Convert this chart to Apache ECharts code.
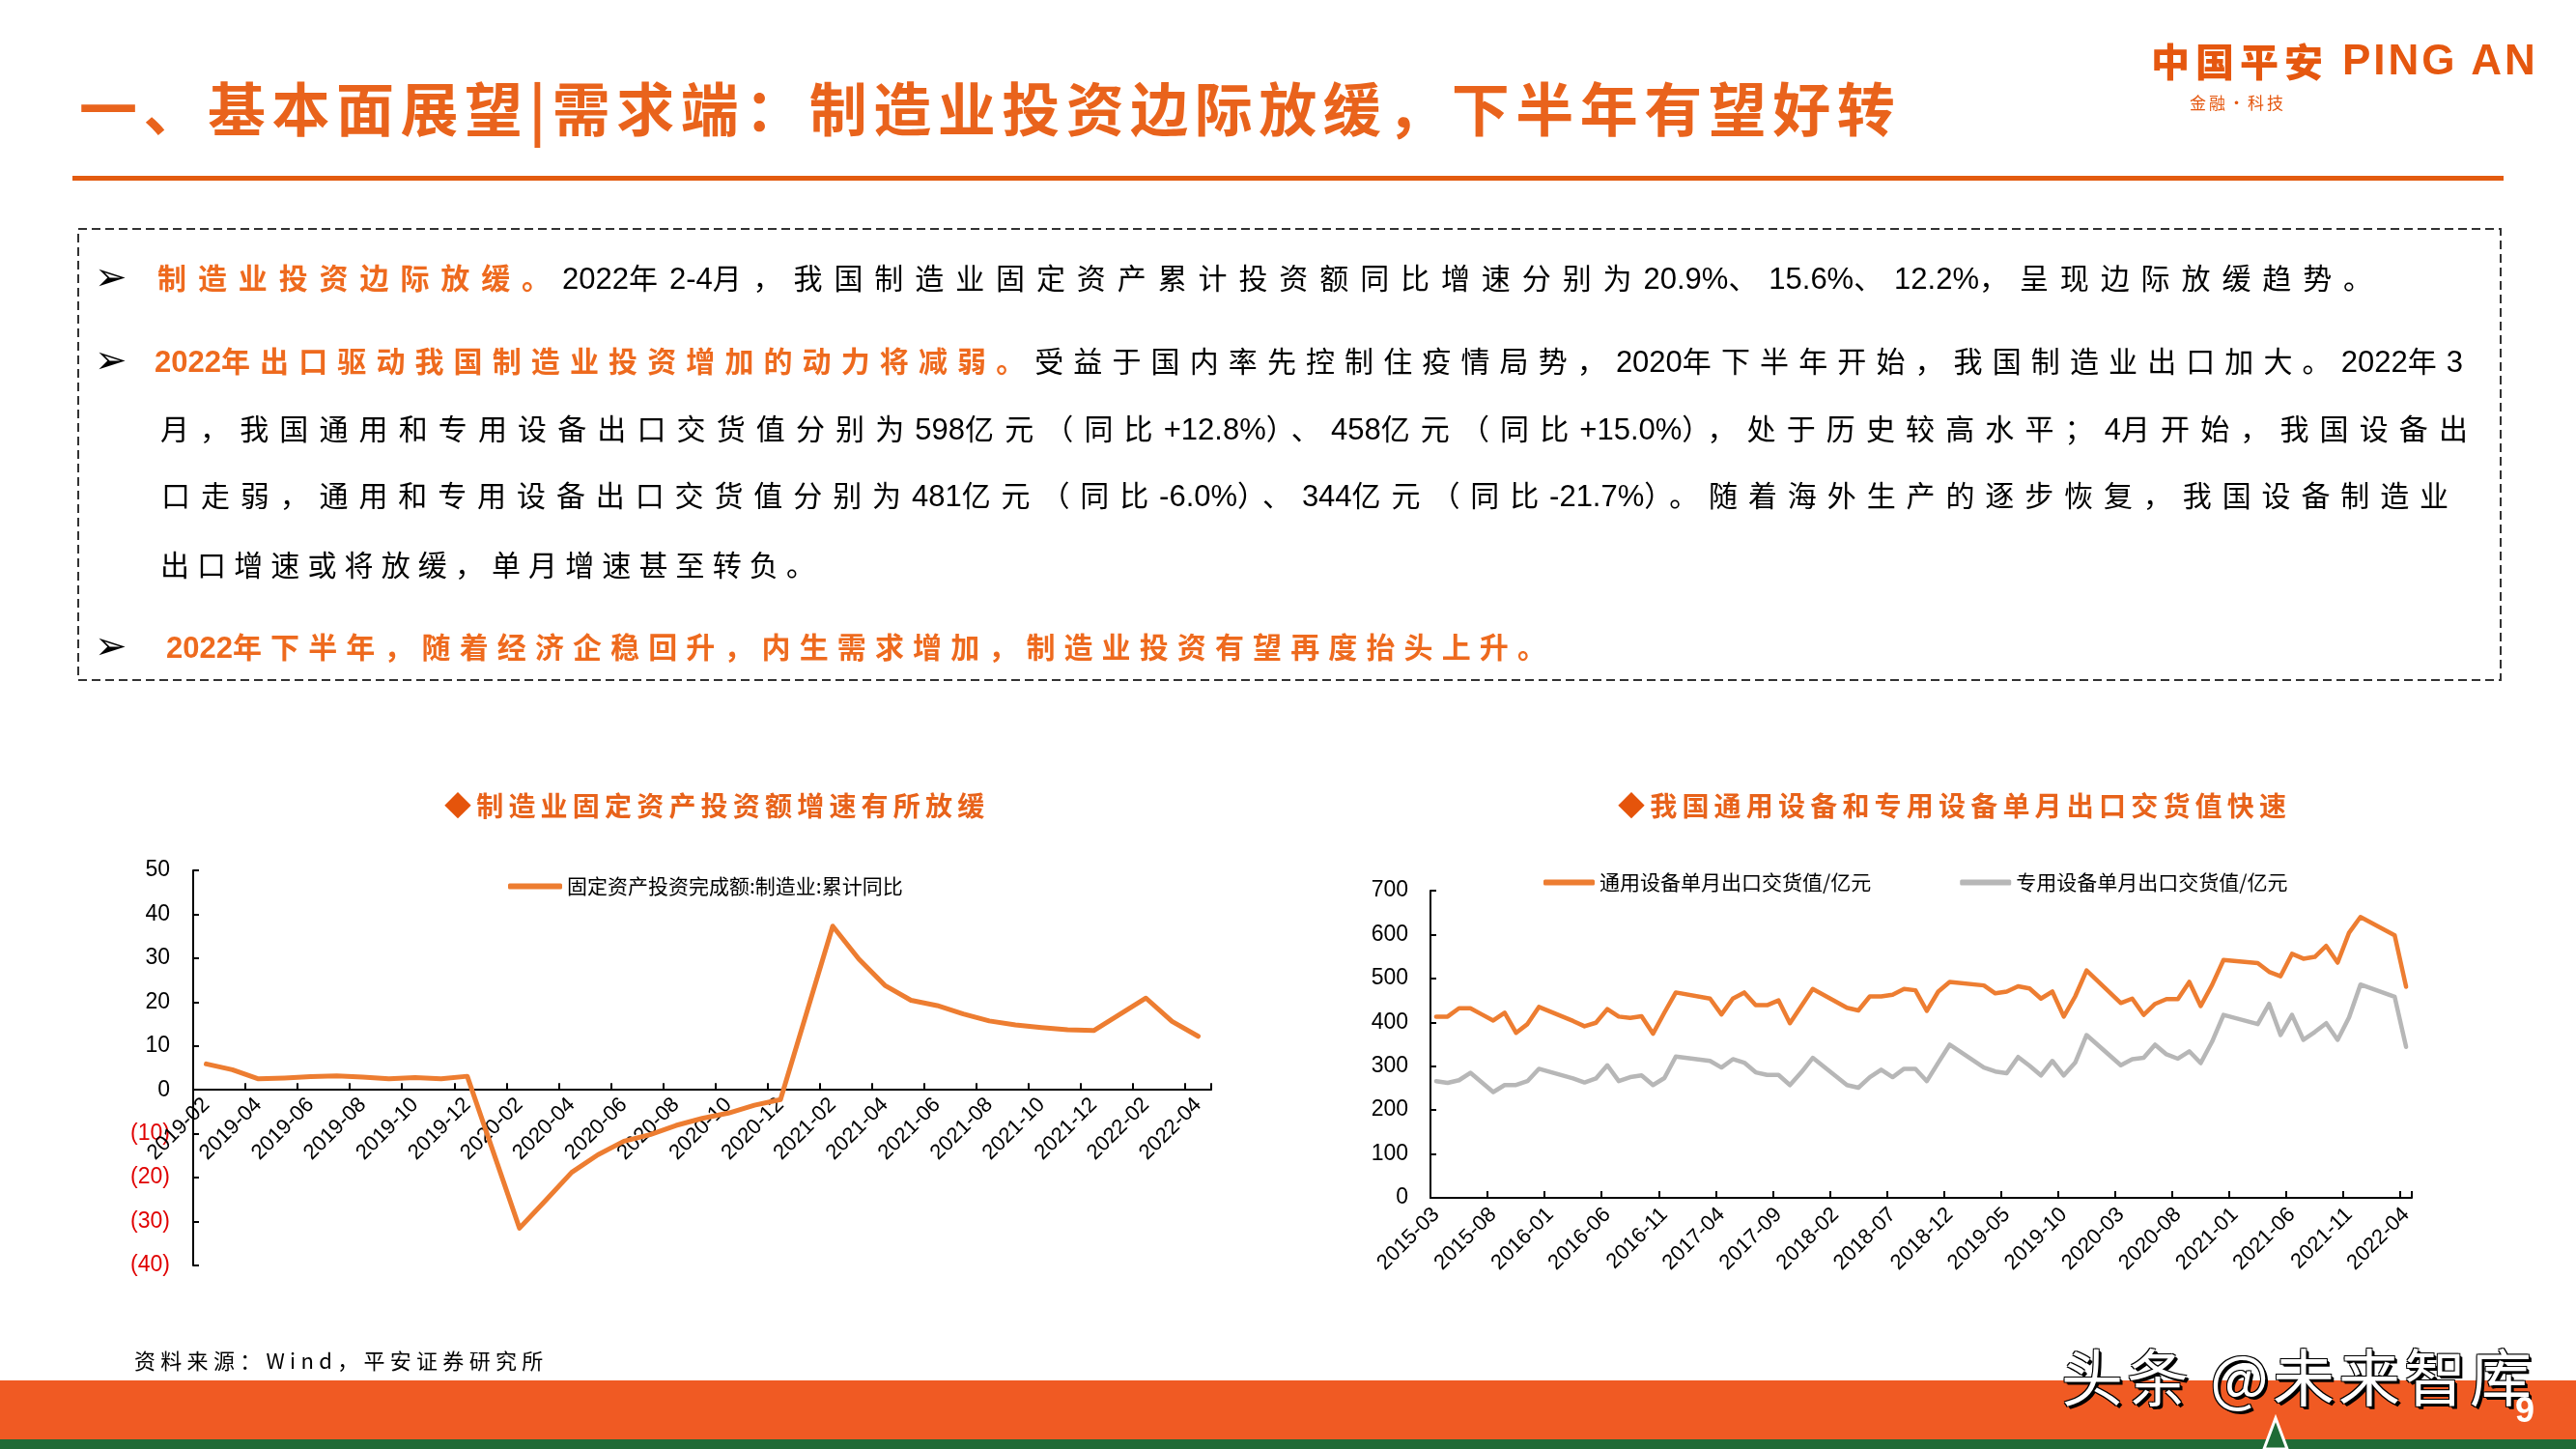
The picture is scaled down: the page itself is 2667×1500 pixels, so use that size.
<!DOCTYPE html>
<html>
<head>
<meta charset="utf-8">
<script src="https://cdn.jsdelivr.net/npm/echarts/dist/echarts.min.js"></script>
<style>
  html, body { margin:0; padding:0; background:#fff; }
  body { width:2667px; height:1500px; position:relative; overflow:hidden; font-family:"Noto Sans CJK SC",sans-serif; }
  #chart { position:absolute; left:0; top:0; width:2667px; height:1500px; z-index:0; }
  .t { position:absolute; white-space:nowrap; z-index:2; }
  .title { left:82px; top:80px; height:60px; line-height:60px; font-size:60px; font-weight:700; color:#E9631C; letter-spacing:6.5px; }
  .rule { position:absolute; left:75px; top:182px; width:2517px; height:5px; background:#E35B10; z-index:2; }
  .logo1 { left:2227px; top:40px; line-height:44px; font-size:40px; font-weight:900; color:#E5570F; letter-spacing:6px; }
  .logo2 { left:2425px; top:40px; line-height:44px; font-size:44px; font-weight:700; color:#E5570F; letter-spacing:3px; font-family:"Liberation Sans",sans-serif; }
  .logo3 { left:2267px; top:95px; line-height:22px; font-size:17px; color:#E5570F; letter-spacing:3px; }
  .body { position:absolute; z-index:2; font-size:30px; line-height:40px; height:40px; color:#000; white-space:nowrap; }
  .body .a { font-family:"Liberation Sans Narrow","Liberation Sans",sans-serif; font-size:31px; letter-spacing:0px; }
  .o { color:#EE6A1E; font-weight:700; }
  .bul { font-family:"DejaVu Sans",sans-serif; font-size:40px; line-height:40px; color:#000; left:98px; }
  .ctitle { font-size:28px; line-height:34px; font-weight:700; color:#E8621A; letter-spacing:5.2px; top:816px; }
  .ctitle .d { color:#E5540B; }
  .src { left:139px; top:1394px; font-size:22px; line-height:26px; letter-spacing:5.3px; color:#000; }
  .foot { position:absolute; left:0; top:1429px; width:2667px; height:61px; background:#F05A23; z-index:1; }
  .foot2 { position:absolute; left:0; top:1490px; width:2667px; height:10px; background:#1F6B36; z-index:1; }
  .wm { left:2134px; top:1385px; font-size:64px; line-height:74px; color:#fff; letter-spacing:4px; text-shadow:3px 3px 0 #000, -1px -1px 0 #000, 1px -1px 0 #000, -1px 1px 0 #000, 2px 2px 0 #000; z-index:3; }
  .pn { left:2604px; top:1440px; font-size:36px; line-height:40px; color:#fff; font-weight:700; z-index:3; font-family:"Liberation Sans",sans-serif; }
</style>
</head>
<body>
<div id="chart"></div>

<div class="t title">一、基本面展望|需求端：制造业投资边际放缓，下半年有望好转</div>
<div class="rule"></div>
<div class="t logo1">中国平安</div>
<div class="t logo2">PING AN</div>
<div class="t logo3">金融·科技</div>

<svg style="position:absolute;left:0;top:0;z-index:1" width="2667" height="1500">
  <rect x="81" y="237" width="2508" height="467" fill="none" stroke="#333" stroke-width="2" stroke-dasharray="9 5"/>
</svg>
<svg style="position:absolute;left:2336px;top:1462px;z-index:3" width="40" height="38">
  <polygon points="20,6 8,38 32,38" fill="#1F6B36" stroke="#fff" stroke-width="3"/>
</svg>

<div class="t bul" style="top:266px">➢</div>
<div class="body" data-w="2305" style="left:163px;top:266px"><span class="o">制造业投资边际放缓。</span>2022年2-4月，我国制造业固定资产累计投资额同比增速分别为20.9%、15.6%、12.2%，呈现边际放缓趋势。</div>
<div class="t bul" style="top:352px">➢</div>
<div class="body" data-w="2390" style="left:160px;top:352px"><span class="o">2022年出口驱动我国制造业投资增加的动力将减弱。</span>受益于国内率先控制住疫情局势，2020年下半年开始，我国制造业出口加大。2022年3</div>
<div class="body" data-w="2400" style="left:166px;top:422px">月，我国通用和专用设备出口交货值分别为598亿元（同比+12.8%）、458亿元（同比+15.0%），处于历史较高水平；4月开始，我国设备出</div>
<div class="body" data-w="2379" style="left:167px;top:491px">口走弱，通用和专用设备出口交货值分别为481亿元（同比-6.0%）、344亿元（同比-21.7%）。随着海外生产的逐步恢复，我国设备制造业</div>
<div class="body" data-w="686" style="left:166px;top:563px">出口增速或将放缓，单月增速甚至转负。</div>
<div class="t bul" style="top:648px">➢</div>
<div class="body" data-w="1438" style="left:172px;top:648px"><span class="o">2022年下半年，随着经济企稳回升，内生需求增加，制造业投资有望再度抬头上升。</span></div>

<div class="t ctitle" style="left:460px"><span class="d">◆</span>制造业固定资产投资额增速有所放缓</div>
<div class="t ctitle" style="left:1675px"><span class="d">◆</span>我国通用设备和专用设备单月出口交货值快速</div>

<div class="t src">资料来源：Wind，平安证券研究所</div>
<div class="foot"></div>
<div class="foot2"></div>
<div class="t wm">头条 @未来智库</div>
<div class="t pn">9</div>

<script>
// Paragraph lines: Latin/digit runs get a Latin face; CJK spacing is fitted so each line spans its width
function fitLines() {
  document.querySelectorAll('.body').forEach(function (el) {
    if (!el.dataset.done) {
      const walker = document.createTreeWalker(el, NodeFilter.SHOW_TEXT);
      const nodes = [];
      while (walker.nextNode()) nodes.push(walker.currentNode);
      nodes.forEach(function (n) {
        const parts = n.nodeValue.split(/([\x21-\x7E]+)/);
        if (parts.length < 2) return;
        const frag = document.createDocumentFragment();
        parts.forEach(function (p, i) {
          if (!p) return;
          if (i % 2 === 1) {
            const s = document.createElement('span');
            s.className = 'a';
            s.textContent = p;
            frag.appendChild(s);
          } else {
            frag.appendChild(document.createTextNode(p));
          }
        });
        n.parentNode.replaceChild(frag, n);
      });
      el.dataset.done = '1';
    }
    el.style.letterSpacing = '0px';
    const w0 = el.getBoundingClientRect().width;
    let n = 0;
    const walker2 = document.createTreeWalker(el, NodeFilter.SHOW_TEXT);
    while (walker2.nextNode()) {
      const node = walker2.currentNode;
      if (node.parentNode.classList && node.parentNode.classList.contains('a')) continue;
      n += node.nodeValue.length;
    }
    const target = parseFloat(el.dataset.w);
    if (n > 0) el.style.letterSpacing = Math.max(0, (target - w0) / n) + 'px';
  });
}
fitLines();
if (document.fonts && document.fonts.ready) document.fonts.ready.then(fitLines);

// ---------- Left chart data: 固定资产投资完成额:制造业:累计同比 (%) ----------
const leftCategories = [
  '2019-02','2019-03','2019-04','2019-05','2019-06','2019-07','2019-08','2019-09','2019-10','2019-11','2019-12',
  '2020-01','2020-02','2020-03','2020-04','2020-05','2020-06','2020-07','2020-08','2020-09','2020-10','2020-11','2020-12',
  '2021-01','2021-02','2021-03','2021-04','2021-05','2021-06','2021-07','2021-08','2021-09','2021-10','2021-11','2021-12',
  '2022-01','2022-02','2022-03','2022-04'
];
const leftValues = [
  5.9, 4.6, 2.5, 2.7, 3.0, 3.2, 2.9, 2.5, 2.8, 2.5, 3.1,
  null, -31.5, -25.2, -18.8, -14.8, -11.7, -10.2, -8.1, -6.5, -5.3, -3.5, -2.2,
  null, 37.3, 29.8, 23.8, 20.4, 19.2, 17.3, 15.7, 14.8, 14.2, 13.7, 13.5,
  null, 20.9, 15.6, 12.2
];
const leftSeriesName = '固定资产投资完成额:制造业:累计同比';
const leftYMin = -40, leftYMax = 50, leftYStep = 10;

// ---------- Right chart data: 单月出口交货值 (亿元) ----------
const rightCategories = [
  '2015-03','2015-04','2015-05','2015-06','2015-07','2015-08','2015-09','2015-10','2015-11','2015-12',
  '2016-01','2016-02','2016-03','2016-04','2016-05','2016-06','2016-07','2016-08','2016-09','2016-10','2016-11','2016-12',
  '2017-01','2017-02','2017-03','2017-04','2017-05','2017-06','2017-07','2017-08','2017-09','2017-10','2017-11','2017-12',
  '2018-01','2018-02','2018-03','2018-04','2018-05','2018-06','2018-07','2018-08','2018-09','2018-10','2018-11','2018-12',
  '2019-01','2019-02','2019-03','2019-04','2019-05','2019-06','2019-07','2019-08','2019-09','2019-10','2019-11','2019-12',
  '2020-01','2020-02','2020-03','2020-04','2020-05','2020-06','2020-07','2020-08','2020-09','2020-10','2020-11','2020-12',
  '2021-01','2021-02','2021-03','2021-04','2021-05','2021-06','2021-07','2021-08','2021-09','2021-10','2021-11','2021-12',
  '2022-01','2022-02','2022-03','2022-04'
];
const generalEquipment = [
  413, 413, 432, 432, 418, 404, 422, 376, 396, 435,
  null, null, 403, 391, 399, 430, 413, 410, 414, 374, 422, 468,
  null, null, 454, 418, 454, 468, 439, 439, 450, 398, 437, 476,
  null, null, 433, 427, 459, 459, 463, 476, 473, 426, 470, 492,
  null, null, 484, 466, 470, 482, 477, 454, 470, 413, 459, 518,
  null, null, 444, 454, 417, 442, 453, 453, 492, 437, 485, 542,
  null, null, 535, 515, 505, 556, 545, 549, 574, 536, 604, 640,
  null, null, 598, 481
];
const specialEquipment = [
  266, 262, 268, 285, 263, 241, 257, 257, 266, 294,
  null, null, 272, 263, 272, 302, 266, 275, 279, 257, 273, 322,
  null, null, 312, 297, 316, 308, 286, 280, 280, 257, 286, 319,
  null, null, 257, 251, 275, 292, 275, 294, 294, 266, 308, 349,
  null, null, 297, 288, 284, 321, 301, 279, 312, 279, 308, 371,
  null, null, 302, 316, 319, 349, 327, 317, 334, 307, 356, 417,
  null, null, 396, 442, 371, 417, 360, 378, 398, 360, 411, 486,
  null, null, 458, 344
];
const generalName = '通用设备单月出口交货值/亿元';
const specialName = '专用设备单月出口交货值/亿元';
const rightYMin = 0, rightYMax = 700, rightYStep = 100;

const ORANGE = '#ED7D31';
const GRAY = '#B7B7B7';
const labelFont = 'Liberation Sans';

// left grid geometry: the category axis sits at value 0
const leftGridTop = 901, leftGridHeight = 409;
const leftZeroOffset = -leftGridHeight * (0 - leftYMin) / (leftYMax - leftYMin);

const chart = echarts.init(document.getElementById('chart'), null, { renderer: 'canvas' });
chart.setOption({
  animation: false,
  backgroundColor: 'transparent',
  textStyle: { fontFamily: 'Noto Sans CJK SC' },
  legend: [
    {
      data: [{ name: leftSeriesName, icon: 'roundRect' }],
      left: 526, top: 907, padding: 0,
      itemWidth: 56, itemHeight: 6,
      selectedMode: false,
      textStyle: { fontSize: 21, color: '#000', fontFamily: 'Noto Sans CJK SC' }
    },
    {
      data: [{ name: generalName, icon: 'roundRect' }, { name: specialName, icon: 'roundRect' }],
      left: 1598, top: 903, padding: 0,
      itemWidth: 53, itemHeight: 6, itemGap: 92,
      selectedMode: false,
      textStyle: { fontSize: 21, color: '#000', fontFamily: 'Noto Sans CJK SC' }
    }
  ],
  grid: [
    { left: 200, top: leftGridTop, width: 1054, height: leftGridHeight, containLabel: false },
    { left: 1481, top: 922, width: 1016, height: 318, containLabel: false }
  ],
  xAxis: [
    {
      type: 'category', gridIndex: 0, data: leftCategories, boundaryGap: true,
      position: 'bottom', offset: leftZeroOffset,
      axisLine: { onZero: false, lineStyle: { color: '#000', width: 2 } },
      axisTick: { show: true, inside: true, length: 7, interval: 1, lineStyle: { color: '#000', width: 2 } },
      axisLabel: { interval: 1, rotate: 45, fontSize: 22, color: '#000', margin: 12, fontFamily: labelFont, hideOverlap: false },
      splitLine: { show: false }
    },
    {
      type: 'category', gridIndex: 1, data: rightCategories, boundaryGap: true,
      axisLine: { lineStyle: { color: '#000', width: 2 } },
      axisTick: { show: true, inside: true, length: 7, interval: 4, lineStyle: { color: '#000', width: 2 } },
      axisLabel: { interval: 4, rotate: 45, fontSize: 22, color: '#000', margin: 14, fontFamily: labelFont },
      splitLine: { show: false }
    }
  ],
  yAxis: [
    {
      type: 'value', gridIndex: 0, min: leftYMin, max: leftYMax, interval: leftYStep,
      axisLine: { show: true, onZero: false, lineStyle: { color: '#000', width: 2 } },
      axisTick: { show: true, inside: true, length: 6, lineStyle: { color: '#000', width: 2 } },
      splitLine: { show: false },
      axisLabel: {
        fontSize: 23, color: '#000', margin: 24, fontFamily: labelFont, hideOverlap: false,
        formatter: v => v < 0 ? '{n|(' + Math.abs(v) + ')}' : String(v),
        rich: { n: { color: '#E00000', fontSize: 23, fontFamily: labelFont } }
      }
    },
    {
      type: 'value', gridIndex: 1, min: rightYMin, max: rightYMax, interval: rightYStep,
      axisLine: { show: true, lineStyle: { color: '#000', width: 2 } },
      axisTick: { show: true, inside: true, length: 6, lineStyle: { color: '#000', width: 2 } },
      splitLine: { show: false },
      axisLabel: { fontSize: 23, color: '#000', margin: 23, fontFamily: labelFont }
    }
  ],
  series: [
    {
      name: leftSeriesName, type: 'line', xAxisIndex: 0, yAxisIndex: 0,
      data: leftValues, symbol: 'none', connectNulls: true,
      itemStyle: { color: ORANGE },
      lineStyle: { color: ORANGE, width: 5, cap: 'round', join: 'round' }
    },
    {
      name: specialName, type: 'line', xAxisIndex: 1, yAxisIndex: 1,
      data: specialEquipment, symbol: 'none', connectNulls: true,
      itemStyle: { color: GRAY },
      lineStyle: { color: GRAY, width: 4.5, cap: 'round', join: 'round' }
    },
    {
      name: generalName, type: 'line', xAxisIndex: 1, yAxisIndex: 1,
      data: generalEquipment, symbol: 'none', connectNulls: true,
      itemStyle: { color: ORANGE },
      lineStyle: { color: ORANGE, width: 4.5, cap: 'round', join: 'round' }
    }
  ]
});
</script>
</body>
</html>
